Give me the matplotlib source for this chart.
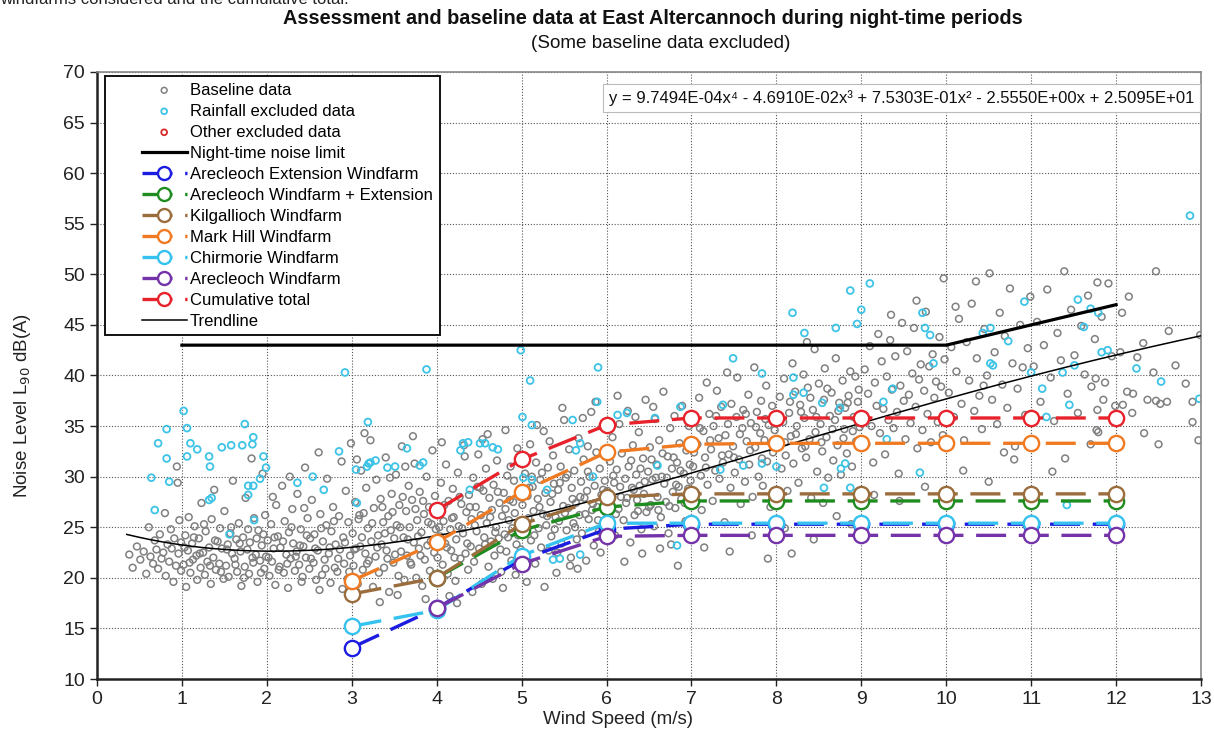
import numpy as np
import matplotlib
matplotlib.use("Agg")
import matplotlib.pyplot as plt
from matplotlib.legend_handler import HandlerLine2D, HandlerPathCollection

plt.rcParams['font.family'] = ['Liberation Sans', 'DejaVu Sans']

# ---------------------------------------------------------------- data
wind_speed = [3, 4, 5, 6, 7, 8, 9, 10, 11, 12]
arecleoch_extension = [13.1, 17.0, 21.8, 24.8, 25.3, 25.3, 25.3, 25.3, 25.3, 25.3]
arecleoch_plus_ext = [None, 20.0, 24.7, 27.0, 27.6, 27.6, 27.6, 27.6, 27.6, 27.6]
kilgallioch = [18.4, 20.0, 25.3, 28.0, 28.3, 28.3, 28.3, 28.3, 28.3, 28.3]
mark_hill = [19.7, 23.5, 28.5, 32.4, 33.2, 33.3, 33.3, 33.3, 33.3, 33.3]
chirmorie = [15.2, 16.8, 22.2, 25.4, 25.4, 25.4, 25.4, 25.4, 25.4, 25.4]
arecleoch = [None, 17.0, 21.4, 24.1, 24.2, 24.2, 24.2, 24.2, 24.2, 24.2]
cumulative = [None, 26.7, 31.7, 35.1, 35.8, 35.8, 35.8, 35.8, 35.8, 35.8]

limit_speed = [1, 2, 3, 4, 5, 6, 7, 8, 9, 10, 11, 12]
night_limit = [43, 43, 43, 43, 43, 43, 43, 43, 43, 43, 45, 47]

# quartic trendline coefficients (x^4 ... x^0)
trend_coeffs = [9.7494e-04, -4.6910e-02, 7.5303e-01, -2.5550e+00, 2.5095e+01]
trend_range = (0.35, 13.0)

# baseline measurements (wind speed, L90)
baseline_0 = [(0.38,22.3),(0.42,21.0),(0.47,23.1),(0.51,21.8),(0.55,22.6),(0.58,20.4),(0.61,25.0),(0.63,22.1),
              (0.66,21.4),(0.68,23.7),(0.7,22.8),(0.72,20.9),(0.74,24.3),(0.76,21.9),(0.78,22.5),(0.8,26.4),
              (0.81,20.2),(0.83,23.3),(0.85,21.6),(0.87,24.8),(0.88,22.9),(0.9,19.6),(0.91,23.9),(0.93,21.2),
              (0.94,31.0),(0.95,29.4),(0.96,22.4),(0.97,25.7),(0.99,20.7),(0.99,23.5)]
baseline_1 = [(1.02,21.3),(1.04,24.2),(1.05,19.1),(1.07,22.7),(1.08,26.0),(1.1,20.5),(1.12,23.4),(1.13,21.8),
              (1.15,25.1),(1.17,22.2),(1.18,19.8),(1.2,23.9),(1.22,21.0),(1.23,27.4),(1.25,22.5),(1.27,20.3),
              (1.28,24.6),(1.3,21.6),(1.32,23.0),(1.34,19.4),(1.35,25.8),(1.37,22.0),(1.38,28.7),(1.4,20.8),
              (1.42,23.6),(1.44,21.4),(1.45,24.9),(1.47,22.9),(1.49,19.9),(1.5,26.6),(1.52,21.2),(1.54,23.3),
              (1.55,20.1),(1.57,24.4),(1.59,22.4),(1.6,29.6),(1.62,21.9),(1.64,23.8),(1.65,20.6),(1.67,25.4),
              (1.69,22.6),(1.7,19.2),(1.72,24.0),(1.74,21.1),(1.75,27.9),(1.77,22.8),(1.79,20.4),(1.8,23.5),
              (1.82,31.8),(1.84,21.5),(1.85,25.9),(1.87,22.3),(1.89,19.6),(1.9,24.7),(1.92,21.7),(1.94,23.2),
              (1.95,30.3),(1.97,20.9),(1.98,26.2),(1.99,22.1),
              (1.03,23.0),(1.09,21.5),(1.14,24.0),(1.21,22.4),(1.26,25.3),(1.33,21.2),(1.39,23.7),(1.46,20.6),
              (1.53,22.8),(1.58,25.0),(1.63,21.3),(1.68,23.4),(1.73,20.0),(1.78,24.8),(1.83,22.0),(1.88,23.9),
              (1.93,20.5),(1.96,24.3)]
baseline_2 = [(2.01,23.7),(2.03,20.2),(2.05,25.3),(2.06,21.6),(2.08,22.9),(2.1,19.3),(2.11,27.2),(2.13,24.1),
              (2.15,21.1),(2.16,23.0),(2.18,29.1),(2.2,20.5),(2.21,25.6),(2.23,22.3),(2.25,19.0),(2.26,24.5),
              (2.28,21.9),(2.3,26.8),(2.31,23.4),(2.33,20.7),(2.35,22.6),(2.36,28.3),(2.38,21.3),(2.4,24.8),
              (2.41,19.6),(2.43,23.1),(2.45,30.9),(2.46,22.0),(2.48,25.9),(2.5,20.9),(2.51,23.9),(2.53,27.7),
              (2.55,21.5),(2.56,24.3),(2.58,19.8),(2.6,22.7),(2.61,32.4),(2.63,26.3),(2.65,20.3),(2.66,23.6),
              (2.68,21.8),(2.7,25.2),(2.71,29.8),(2.73,22.4),(2.75,19.5),(2.76,24.6),(2.78,27.0),(2.8,21.0),
              (2.81,23.3),(2.83,20.6),(2.85,26.1),(2.86,22.8),(2.88,31.5),(2.9,24.0),(2.91,21.4),(2.93,28.6),
              (2.95,19.9),(2.96,25.5),(2.98,22.2),(2.99,33.3),(2.62,18.8),(2.27,30.0),(2.44,26.9),(2.07,28.0),
              (2.89,18.9),
              (2.02,22.0),(2.09,24.0),(2.14,20.8),(2.19,23.6),(2.24,21.4),(2.29,25.0),(2.34,22.1),(2.39,23.2),
              (2.42,20.1),(2.47,24.2),(2.52,21.9),(2.57,22.9),(2.64,24.9),(2.69,20.9),(2.74,23.0),(2.79,25.6),
              (2.84,21.9),(2.92,23.5),(2.97,20.6)]
baseline_3 = [(3.01,24.4),(3.02,21.2),(3.04,27.5),(3.05,22.9),(3.07,19.4),(3.08,25.8),(3.1,23.1),(3.11,30.6),
              (3.13,20.8),(3.14,26.4),(3.16,22.4),(3.17,28.9),(3.19,24.9),(3.2,21.7),(3.22,33.6),(3.23,23.6),
              (3.25,19.1),(3.26,26.9),(3.28,22.1),(3.29,29.7),(3.31,24.2),(3.32,20.5),(3.34,27.8),(3.35,23.3),
              (3.37,25.5),(3.38,21.0),(3.4,31.9),(3.41,22.7),(3.43,26.1),(3.44,18.6),(3.46,24.7),(3.47,28.3),
              (3.49,21.5),(3.5,23.9),(3.52,30.2),(3.53,25.2),(3.55,20.2),(3.56,27.2),(3.58,22.6),(3.59,33.0),
              (3.61,24.0),(3.62,19.8),(3.64,26.6),(3.65,22.2),(3.67,29.1),(3.68,25.0),(3.7,21.3),(3.71,27.7),
              (3.73,23.5),(3.74,31.3),(3.76,20.0),(3.77,25.7),(3.79,22.9),(3.8,28.5),(3.82,24.5),(3.83,19.2),
              (3.85,26.3),(3.86,21.8),(3.88,30.0),(3.89,23.2),(3.91,27.0),(3.92,20.7),(3.94,25.3),(3.95,32.6),
              (3.97,22.5),(3.98,28.1),(3.99,24.8),(3.15,34.3),(3.33,17.6),(3.54,18.3),(3.72,34.0),(3.87,17.9),
              (3.45,29.9),(3.63,31.0),(3.06,31.7),
              (3.03,22.8),(3.09,26.2),(3.12,24.0),(3.18,21.4),(3.24,25.4),(3.3,23.0),(3.36,27.0),(3.39,24.4),
              (3.42,21.9),(3.48,26.5),(3.51,22.3),(3.57,25.0),(3.6,28.0),(3.66,23.8),(3.69,21.5),(3.75,26.8),
              (3.78,24.1),(3.81,22.2),(3.84,27.6),(3.9,25.5),(3.93,23.6),(3.96,26.9)]
baseline_4 = [(4.01,22.0),(4.02,26.9),(4.04,24.1),(4.05,29.4),(4.07,21.3),(4.08,25.6),(4.1,23.4),(4.11,31.2),
              (4.13,20.4),(4.14,27.6),(4.16,24.8),(4.17,22.7),(4.19,28.8),(4.2,26.0),(4.22,19.7),(4.23,23.8),
              (4.25,30.4),(4.26,25.1),(4.28,21.9),(4.29,27.3),(4.31,24.4),(4.32,33.1),(4.34,22.4),(4.35,26.5),
              (4.37,20.8),(4.38,28.2),(4.4,23.1),(4.41,25.8),(4.43,29.9),(4.44,21.6),(4.46,27.0),(4.47,24.6),
              (4.49,32.2),(4.5,22.9),(4.52,26.2),(4.53,19.4),(4.55,28.6),(4.56,24.0),(4.58,30.8),(4.59,25.4),
              (4.61,21.1),(4.62,27.9),(4.64,23.6),(4.65,26.7),(4.67,29.2),(4.68,22.2),(4.7,25.0),(4.71,31.6),
              (4.73,23.9),(4.74,27.4),(4.76,20.6),(4.77,26.1),(4.79,28.4),(4.8,24.3),(4.82,22.6),(4.83,30.1),
              (4.85,25.7),(4.86,27.7),(4.88,21.7),(4.89,24.9),(4.91,29.6),(4.92,26.4),(4.94,23.3),(4.95,32.8),
              (4.97,25.3),(4.98,28.0),(4.99,22.8),(4.15,18.2),(4.42,18.6),(4.6,34.2),(4.78,19.0),(4.33,32.0),
              (4.54,33.7),(4.87,31.0),(4.06,33.4),(4.24,17.5),(4.66,19.9),(4.93,20.3),(4.48,29.0),(4.81,34.6),
              (4.03,25.0),(4.09,27.2),(4.12,23.0),(4.18,25.9),(4.21,22.0),(4.27,28.0),(4.3,24.9),(4.36,23.4),
              (4.39,27.0),(4.45,25.2),(4.51,28.9),(4.57,23.3),(4.63,26.0),(4.69,24.5),(4.72,28.5),(4.75,22.8),
              (4.81,26.8),(4.84,24.0),(4.9,27.5),(4.96,24.2)]
baseline_5 = [(5.01,27.2),(5.02,24.5),(5.04,30.3),(5.05,22.3),(5.07,28.1),(5.08,25.9),(5.1,33.2),(5.11,23.7),
              (5.13,29.0),(5.14,26.6),(5.16,21.4),(5.17,31.4),(5.19,27.8),(5.2,24.9),(5.22,29.7),(5.23,23.0),
              (5.25,26.3),(5.26,34.5),(5.28,28.4),(5.29,25.2),(5.31,30.9),(5.32,22.7),(5.34,27.5),(5.35,24.1),
              (5.37,32.1),(5.38,29.3),(5.4,26.0),(5.41,20.5),(5.43,28.7),(5.44,25.6),(5.46,31.0),(5.47,23.4),
              (5.49,27.1),(5.5,35.6),(5.52,29.9),(5.53,24.7),(5.55,26.9),(5.56,32.7),(5.58,22.0),(5.59,28.9),
              (5.61,25.4),(5.62,30.6),(5.64,27.4),(5.65,23.8),(5.67,33.8),(5.68,26.2),(5.7,29.5),(5.71,24.4),
              (5.73,31.7),(5.74,27.9),(5.76,21.7),(5.77,28.6),(5.79,25.8),(5.8,30.0),(5.82,36.4),(5.83,26.7),
              (5.85,23.2),(5.86,29.1),(5.88,32.4),(5.89,27.0),(5.91,24.6),(5.92,30.8),(5.94,28.2),(5.95,34.9),
              (5.97,25.1),(5.98,29.6),(5.99,26.5),(5.06,19.6),(5.27,19.1),(5.48,36.8),(5.66,20.9),(5.87,37.4),
              (5.18,35.1),(5.33,33.5),(5.57,21.2),(5.78,33.0),(5.93,22.5),(5.12,30.0),(5.42,22.5),(5.72,35.8),
              (5.03,25.6),(5.09,28.9),(5.15,24.2),(5.21,27.0),(5.24,30.4),(5.3,26.1),(5.36,28.3),(5.39,24.8),
              (5.45,29.4),(5.51,26.4),(5.54,30.2),(5.6,27.8),(5.63,25.0),(5.69,28.0),(5.75,26.3),(5.78,30.5),
              (5.84,27.3),(5.9,25.7),(5.96,28.7)]
baseline_6 = [(6.01,28.6),(6.03,25.3),(6.04,31.5),(6.06,27.0),(6.07,33.9),(6.09,29.4),(6.1,24.2),(6.12,30.7),
              (6.14,26.8),(6.15,35.2),(6.17,28.0),(6.18,32.3),(6.2,25.7),(6.22,29.8),(6.23,27.4),(6.25,36.5),
              (6.26,31.0),(6.28,23.5),(6.3,28.9),(6.31,33.1),(6.33,26.2),(6.35,30.2),(6.36,27.7),(6.38,34.4),
              (6.39,29.1),(6.41,24.8),(6.43,31.8),(6.44,28.3),(6.46,37.6),(6.47,26.5),(6.49,30.5),(6.51,32.9),
              (6.52,27.2),(6.54,29.7),(6.56,25.1),(6.57,35.7),(6.59,31.2),(6.6,28.0),(6.62,33.6),(6.64,26.0),
              (6.65,30.0),(6.67,38.4),(6.68,29.3),(6.7,27.5),(6.72,32.0),(6.73,24.4),(6.75,34.8),(6.77,30.8),
              (6.78,28.5),(6.8,36.0),(6.81,26.9),(6.83,31.4),(6.85,29.0),(6.86,33.3),(6.88,27.8),(6.89,37.0),
              (6.91,30.3),(6.93,25.6),(6.94,32.6),(6.96,28.8),(6.97,35.0),(6.99,29.6),(6.21,21.6),(6.42,22.4),
              (6.63,22.9),(6.84,21.2),(6.13,38.0),(6.55,36.9),(6.76,23.3),(6.34,35.9),
              (6.02,27.8),(6.08,30.1),(6.11,26.3),(6.16,29.0),(6.24,27.9),(6.29,31.6),(6.32,28.7),(6.37,26.6),
              (6.4,30.8),(6.45,29.5),(6.5,27.0),(6.53,31.7),(6.58,29.9),(6.61,26.7),(6.66,32.3),(6.71,29.9),
              (6.74,27.1),(6.79,31.9),(6.82,29.2),(6.87,30.6),(6.92,27.4),(6.98,31.2)]
baseline_7 = [(7.02,31.0),(7.04,35.6),(7.05,28.4),(7.07,33.2),(7.09,37.8),(7.11,30.1),(7.12,26.7),(7.14,34.5),
              (7.16,31.9),(7.18,39.3),(7.19,29.2),(7.21,36.2),(7.23,32.7),(7.25,27.6),(7.26,35.0),(7.28,30.6),
              (7.3,38.5),(7.32,33.8),(7.33,29.8),(7.35,36.9),(7.37,31.4),(7.39,25.5),(7.4,34.1),(7.42,40.3),
              (7.44,32.2),(7.46,28.9),(7.47,37.2),(7.49,33.0),(7.51,30.4),(7.53,35.9),(7.54,39.8),(7.56,31.7),
              (7.58,27.3),(7.6,34.8),(7.61,36.6),(7.63,29.5),(7.65,33.5),(7.67,38.1),(7.68,31.2),(7.7,35.3),
              (7.72,28.0),(7.74,40.8),(7.75,32.9),(7.77,36.4),(7.79,30.0),(7.81,34.3),(7.82,37.5),(7.84,29.1),
              (7.86,33.6),(7.88,39.0),(7.89,31.5),(7.91,35.1),(7.93,27.0),(7.95,37.0),(7.96,32.4),(7.98,34.6),
              (7.15,23.0),(7.45,22.6),(7.71,24.2),(7.9,21.9),
              (7.03,32.4),(7.1,34.8),(7.17,30.9),(7.22,33.6),(7.29,36.0),(7.36,32.1),(7.43,35.2),(7.5,31.9),
              (7.57,34.2),(7.64,36.2),(7.69,32.6),(7.76,34.9),(7.83,31.8),(7.87,35.7),(7.94,33.3)]
baseline_8 = [(8.02,33.4),(8.04,37.9),(8.06,30.8),(8.08,35.4),(8.09,39.7),(8.11,32.1),(8.13,28.6),(8.15,36.3),
              (8.17,34.0),(8.19,41.2),(8.2,31.3),(8.22,38.4),(8.24,35.0),(8.26,29.4),(8.28,37.1),(8.3,32.8),
              (8.32,40.1),(8.33,35.8),(8.35,31.9),(8.37,38.8),(8.39,33.7),(8.41,27.9),(8.43,36.6),(8.45,42.6),
              (8.46,34.4),(8.48,30.5),(8.5,39.2),(8.52,35.2),(8.54,32.5),(8.56,37.6),(8.57,40.7),(8.59,33.9),
              (8.61,29.9),(8.63,36.0),(8.65,38.3),(8.67,31.6),(8.69,35.6),(8.7,41.7),(8.72,33.1),(8.74,37.3),
              (8.76,30.2),(8.78,39.5),(8.8,34.7),(8.81,36.8),(8.83,32.3),(8.85,38.0),(8.87,40.4),(8.89,31.0),
              (8.91,35.9),(8.93,39.9),(8.94,33.5),(8.96,37.4),(8.98,34.9),(8.1,24.9),(8.44,23.8),(8.71,26.1),
              (8.18,22.4),(8.55,27.4),(8.88,25.3),(8.36,43.3),
              (8.03,35.7),(8.1,33.4),(8.16,37.4),(8.23,34.2),(8.29,36.4),(8.34,33.0),(8.4,37.8),(8.47,35.9),
              (8.53,33.4),(8.6,38.7),(8.66,34.7),(8.73,36.5),(8.79,33.8),(8.84,37.3),(8.9,34.5),(8.97,38.6)]
baseline_9 = [(9.02,36.1),(9.04,40.6),(9.06,33.2),(9.08,38.2),(9.1,42.9),(9.12,35.0),(9.14,31.4),(9.16,39.3),
              (9.18,37.0),(9.2,44.1),(9.22,34.3),(9.24,41.4),(9.26,36.7),(9.28,32.2),(9.3,39.9),(9.32,35.6),
              (9.34,43.5),(9.36,38.6),(9.38,34.8),(9.4,41.9),(9.42,36.4),(9.44,30.3),(9.46,39.0),(9.48,45.2),
              (9.5,37.5),(9.52,33.7),(9.54,42.4),(9.56,38.1),(9.58,35.3),(9.6,40.2),(9.62,44.7),(9.64,36.9),
              (9.66,32.8),(9.68,39.6),(9.7,41.1),(9.72,34.6),(9.74,38.5),(9.76,46.3),(9.78,36.2),(9.8,40.9),
              (9.82,33.4),(9.84,42.1),(9.86,37.8),(9.88,39.4),(9.9,35.4),(9.92,43.8),(9.94,38.9),(9.96,34.1),
              (9.98,41.6),(9.15,28.2),(9.45,27.6),(9.75,29.0),(9.35,46.0),(9.65,47.4),(9.97,49.6)]
baseline_10 = [(10.03,38.3),(10.06,42.8),(10.09,35.9),(10.12,40.4),(10.15,45.6),(10.18,37.2),(10.21,33.6),
               (10.24,43.3),(10.27,39.5),(10.3,47.1),(10.33,36.5),(10.36,41.7),(10.39,38.0),(10.42,34.7),
               (10.45,44.6),(10.48,40.0),(10.51,50.1),(10.54,37.6),(10.57,42.3),(10.6,35.2),(10.63,46.2),
               (10.66,39.1),(10.69,43.9),(10.72,36.8),(10.75,48.6),(10.78,41.2),(10.81,33.0),(10.84,38.7),
               (10.87,45.0),(10.9,40.8),(10.93,36.1),(10.96,42.7),(10.99,47.8),(10.2,30.6),(10.5,29.5),
               (10.8,31.7),(10.35,49.3),(10.68,32.4),(10.11,46.8),(10.44,39.0)]
baseline_11 = [(11.03,40.9),(11.07,45.3),(11.11,37.4),(11.15,43.0),(11.19,48.5),(11.23,39.8),(11.27,35.5),
               (11.31,44.2),(11.35,41.5),(11.39,50.3),(11.43,38.2),(11.47,46.5),(11.51,42.0),(11.55,36.3),
               (11.59,44.9),(11.63,40.1),(11.67,47.9),(11.71,38.9),(11.75,43.6),(11.79,34.4),(11.83,45.8),
               (11.87,39.3),(11.91,49.1),(11.95,41.9),(11.99,37.0),(11.4,31.8),(11.7,33.2),(11.25,30.5),
               (11.78,49.2),(11.76,39.7),(11.85,37.6),(11.78,36.6),(11.77,34.6)]
baseline_12 = [(12.07,46.2),(12.32,43.2),(12.44,40.3),(12.13,38.4),(12.2,38.2),(12.37,37.6),(12.47,37.5),
               (12.52,37.2),(12.6,37.4),(12.9,37.4),(12.08,37.1),(12.19,36.3),(12.9,35.4),(12.97,33.6),
               (12.5,33.2),(12.33,34.3),(12.47,50.3),(12.99,44.0),(12.7,41.0),(12.82,39.2),(12.25,41.8),
               (12.62,44.4),(12.05,42.3),(12.15,47.8)]

# rainfall-affected measurements
rainfall = [(1.02,36.5),(0.82,34.7),(1.06,34.8),(0.72,33.3),(1.1,33.3),(1.18,32.7),(0.82,31.8),(1.06,32.0),
            (0.64,29.9),(0.85,29.5),(0.68,26.7),(1.74,35.2),(1.71,33.1),(1.83,33.2),(1.84,33.9),(1.47,32.9),
            (1.58,33.1),(1.32,32.0),(1.33,31.0),(1.96,32.0),(1.99,30.9),(1.92,29.8),(1.78,29.1),(1.84,29.1),
            (1.78,28.2),(1.32,27.7),(1.35,27.9),(1.85,25.7),(1.56,24.3),(2.92,40.3),(3.19,35.4),(2.85,32.5),
            (3.05,30.7),(3.2,31.3),(3.18,31.0),(3.42,30.9),(3.06,27.4),(2.36,29.4),(2.54,30.0),(2.67,28.7),
            (4.31,33.3),(4.37,33.4),(4.51,33.3),(4.57,33.3),(4.66,32.9),(4.72,32.7),(5.01,35.9),(5.12,35.1),
            (5.6,35.6),(5.89,37.4),(5.64,32.6),(6.13,36.1),(6.24,36.3),(6.87,36.9),(6.57,35.8),(7.37,37.1),
            (7.61,31.1),(7.34,30.7),(6.6,31.1),(3.8,31.1),(3.84,31.4),(3.22,31.4),(3.28,31.6),(3.51,31.0),
            (3.65,32.8),(4.28,32.6),(5.02,29.9),(5.12,29.7),(5.3,28.7),(5.84,30.0),(5.69,22.3),(5.37,21.8),
            (5.45,21.9),(6.83,23.2),(5.69,33.3),(4.39,28.7),(8.19,46.2),(8.33,44.2),(8.7,44.7),(9.0,46.5),
            (8.95,45.1),(9.72,46.2),(9.75,44.7),(9.81,44.0),(10.43,44.2),(10.52,44.7),(10.73,43.4),(10.92,47.3),
            (11.55,47.5),(11.62,44.8),(11.79,46.2),(11.7,46.6),(11.83,42.3),(11.9,42.5),(9.85,41.2),(10.52,41.2),
            (10.55,41.0),(7.83,40.2),(8.2,39.8),(8.32,38.3),(8.2,38.1),(8.54,37.3),(8.75,36.8),(9.26,37.4),
            (9.37,38.7),(11.0,40.3),(11.13,38.7),(11.37,40.3),(11.45,37.1),(11.51,41.0),(12.24,40.7),(12.53,39.4),
            (12.98,37.7),(11.18,35.9),(7.83,31.3),(8.0,31.0),(8.81,31.3),(8.76,30.8),(9.69,30.4),(8.87,28.9),
            (8.56,28.9),(11.42,27.2),(9.3,33.7),(12.87,55.8),(8.87,48.4),(9.1,49.1),(3.88,40.6),(4.99,42.5),
            (5.1,39.5),(5.9,40.8),(7.49,41.7)]

other_excluded = []

# ---------------------------------------------------------------- figure
fig = plt.figure(figsize=(12.14, 7.32), dpi=100)
ax = fig.add_axes([97 / 1214, 1 - 679 / 732, 1104 / 1214, 607 / 732])

base_pts = np.array(baseline_0 + baseline_1 + baseline_2 + baseline_3 + baseline_4 + baseline_5 +
                    baseline_6 + baseline_7 + baseline_8 + baseline_9 + baseline_10 + baseline_11 +
                    baseline_12)
rain_pts = np.array(rainfall)

h_base = ax.scatter(base_pts[:, 0], base_pts[:, 1], s=24, facecolors='none', edgecolors='#808080',
                    linewidths=1.1, zorder=2, label='Baseline data')
h_rain = ax.scatter(rain_pts[:, 0], rain_pts[:, 1], s=24, facecolors='none', edgecolors='#3dc3e6',
                    linewidths=1.3, zorder=2, label='Rainfall excluded data')
h_other = ax.scatter([p[0] for p in other_excluded], [p[1] for p in other_excluded], s=24,
                     facecolors='none', edgecolors='#d42a2a', linewidths=1.3, zorder=2,
                     label='Other excluded data')

h_limit, = ax.plot(limit_speed, night_limit, color='black', lw=2.3, zorder=4,
                   label='Night-time noise limit')

series = [
    (arecleoch_extension, '#1c1ce0', 'Arecleoch Extension Windfarm'),
    (arecleoch_plus_ext, '#1f8c1f', 'Arecleoch Windfarm + Extension'),
    (kilgallioch, '#9b6d3d', 'Kilgallioch Windfarm'),
    (mark_hill, '#f07a22', 'Mark Hill Windfarm'),
    (chirmorie, '#35c2ef', 'Chirmorie Windfarm'),
    (arecleoch, '#7433a8', 'Arecleoch Windfarm'),
    (cumulative, '#e8222a', 'Cumulative total'),
]
series_handles = []
for i, (vals, col, name) in enumerate(series):
    xs = [x for x, v in zip(wind_speed, vals) if v is not None]
    ys = [v for v in vals if v is not None]
    h, = ax.plot(xs, ys, color=col, lw=2.4, linestyle=(0, (9, 3.8)), marker='o', markersize=11,
                 markerfacecolor='white', markeredgecolor=col, markeredgewidth=1.7, zorder=5 + i,
                 label=name)
    series_handles.append(h)

tx = np.linspace(trend_range[0], trend_range[1], 300)
h_trend, = ax.plot(tx, np.polyval(trend_coeffs, tx), color='black', lw=1.1, zorder=4, label='Trendline')

# ---------------------------------------------------------------- axes styling
ax.set_xlim(0, 13)
ax.set_ylim(10, 70)
ax.set_xticks(range(0, 14))
ax.set_yticks(range(10, 71, 5))
ax.grid(True, color='#555555', linestyle=(0, (1, 1.6)), linewidth=0.8, zorder=0)
ax.set_axisbelow(True)
ax.tick_params(axis='both', labelsize=14, colors='#222222', direction='out', length=5, width=1)
for side in ('left', 'bottom'):
    ax.spines[side].set_linewidth(1.8)
    ax.spines[side].set_color('#222222')
for side in ('top', 'right'):
    ax.spines[side].set_linewidth(1.2)
    ax.spines[side].set_color('#888888')

ax.set_xlabel('Wind Speed (m/s)', fontsize=13.5, color='#222222')
ax.xaxis.set_label_coords(0.472, -0.052)
ax.set_ylabel('Noise Level L$_{90}$ dB(A)', fontsize=13.5, color='#222222')
ax.yaxis.set_label_coords(-0.058, 0.45)

# regression equation box
ax.text(0.994, 0.957,
        'y = 9.7494E-04x\u2074 - 4.6910E-02x\u00b3 + 7.5303E-01x\u00b2 - 2.5550E+00x + 2.5095E+01',
        transform=ax.transAxes, ha='right', va='center', fontsize=12, color='#111111', zorder=20,
        bbox=dict(boxstyle='square,pad=0.35', facecolor='white', edgecolor='#bbbbbb', linewidth=0.8))


class ShiftedLineHandler(HandlerLine2D):
    """Draw the legend sample only in the right-hand part of the handle box."""
    frac = 0.6

    def create_artists(self, legend, orig_handle, xdescent, ydescent, width, height, fontsize, trans):
        w = width * self.frac
        return super().create_artists(legend, orig_handle, xdescent - (width - w), ydescent, w,
                                      height, fontsize, trans)


class ShiftedScatterHandler(HandlerPathCollection):
    frac = 0.6

    def create_artists(self, legend, orig_handle, xdescent, ydescent, width, height, fontsize, trans):
        w = width * self.frac
        return super().create_artists(legend, orig_handle, xdescent - (width - w), ydescent, w,
                                      height, fontsize, trans)


handles = [h_base, h_rain, h_other, h_limit] + series_handles + [h_trend]
hmap = {h: ShiftedLineHandler() for h in [h_limit] + series_handles + [h_trend]}
for h in (h_base, h_rain, h_other):
    hmap[h] = ShiftedScatterHandler(numpoints=1)
leg = ax.legend(handles=handles, loc='upper left', bbox_to_anchor=(8 / 1104, 1 - 4 / 607),
                borderaxespad=0, fontsize=12, labelspacing=0.36, handlelength=4.5,
                handletextpad=0.2, borderpad=0.4, fancybox=False, framealpha=1,
                edgecolor='#111111', scatterpoints=1, handler_map=hmap, markerscale=0.85)
leg.get_frame().set_linewidth(1.4)
leg.set_zorder(30)

# titles
fig.text(0.0, 1 - 4 / 732, 'windfarms considered and the cumulative total.', ha='left',
         va='baseline', fontsize=12, color='#222222')
fig.text(653 / 1214, 1 - 18 / 732,
         'Assessment and baseline data at East Altercannoch during night-time periods',
         ha='center', va='center', fontsize=14.3, fontweight='bold', color='#111111')
fig.text(661 / 1214, 1 - 43 / 732, '(Some baseline data excluded)', ha='center', va='center',
         fontsize=13.6, color='#111111')

fig.savefig('out.png', dpi=100)
